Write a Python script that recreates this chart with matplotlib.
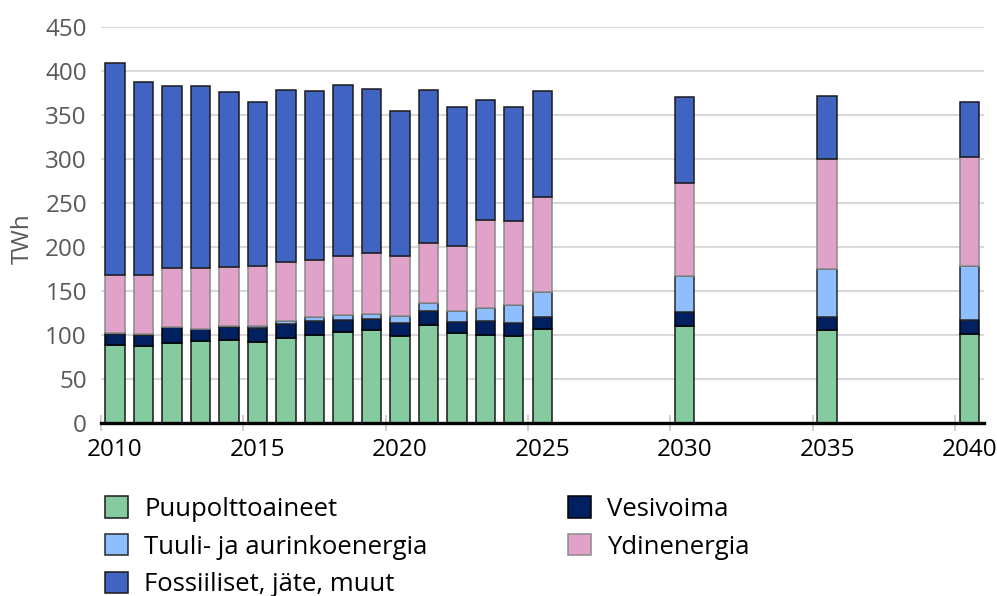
import numpy as np
import matplotlib
matplotlib.use("Agg")
import matplotlib.pyplot as plt
from matplotlib.patches import Patch

# -----------------------------------------
# Data (TWh)
# -----------------------------------------

years = [2010, 2011, 2012, 2013, 2014, 2015, 2016, 2017, 2018, 2019,
         2020, 2021, 2022, 2023, 2024, 2025, 2030, 2035, 2040]

puu = [88.5, 87.7, 91.1, 93.4, 93.8, 91.5, 96.8, 100.2, 103.3, 105.2,
       98.3, 111.3, 101.7, 100.2, 99.1, 106.7, 110.5, 105.2, 101.0]
vesi = [13.0, 12.5, 17.5, 12.9, 14.8, 17.0, 16.0, 15.6, 14.0, 12.9,
        15.6, 16.3, 13.4, 16.0, 14.4, 14.1, 15.2, 15.6, 15.6]
tuuli = [0.3, 0.5, 0.5, 0.8, 1.1, 2.0, 2.6, 4.6, 5.7, 5.7,
         8.0, 8.3, 11.7, 14.4, 20.9, 28.1, 41.8, 54.6, 62.3]
ydin = [66.2, 67.1, 66.7, 69.1, 67.3, 68.4, 68.0, 65.3, 66.5, 69.5,
        67.6, 68.4, 74.1, 100.3, 94.9, 107.4, 105.1, 124.6, 123.0]
fossiili = [241.0, 220.2, 207.0, 206.6, 199.0, 186.4, 195.2, 191.3, 194.4, 185.7,
            165.5, 173.6, 158.3, 135.6, 130.3, 120.4, 98.4, 71.8, 63.4]

tick_years = [2010, 2015, 2020, 2025, 2030, 2035, 2040]

# -----------------------------------------
# Style
# -----------------------------------------

plt.rcParams["font.family"] = ["Open Sans", "DejaVu Sans"]
FS = 17.5
LEG_FS = 18.5

series = [
    ("Puupolttoaineet", puu, "#86CB9F", "#1a1a1a"),
    ("Vesivoima", vesi, "#002060", "#000000"),
    ("Tuuli- ja aurinkoenergia", tuuli, "#8FBEFF", "#2a2a2a"),
    ("Ydinenergia", ydin, "#E0A2C9", "#8a8a8a"),
    ("Fossiiliset, jäte, muut", fossiili, "#4163C1", "#1a1a1a"),
]

fig = plt.figure(figsize=(9.97, 5.96), dpi=100)
ax = fig.add_axes([0.1011, 0.2903, 0.8856, 0.6644])

# -----------------------------------------
# Stacked bars
# -----------------------------------------

x = np.array(years)
bottom = np.zeros(len(years))
handles = {}
for name, vals, col, edge in series:
    vals = np.array(vals)
    ax.bar(x, vals, width=0.68, bottom=bottom, color=col,
           edgecolor=edge, linewidth=1.1, zorder=3)
    bottom = bottom + vals
    handles[name] = Patch(facecolor=col, edgecolor=edge, linewidth=1.1)

# -----------------------------------------
# Axes
# -----------------------------------------

ax.set_xlim(2009.5, 2040.5)
ax.set_ylim(0, 450)
ax.set_yticks(range(0, 451, 50))
ax.set_xticks(tick_years)
ax.set_xticks([y - 0.5 for y in tick_years], minor=True)

ax.grid(axis="y", color="#d9d9d9", linewidth=1.5, zorder=0)
for s in ["top", "right", "left"]:
    ax.spines[s].set_visible(False)
ax.spines["bottom"].set_linewidth(2.4)
ax.spines["bottom"].set_color("black")
ax.spines["bottom"].set_zorder(4)

ax.tick_params(axis="y", length=0, pad=10, labelsize=FS, labelcolor="#595959")
ax.tick_params(axis="x", which="major", length=0, pad=11, labelsize=FS,
               labelcolor="black")
ax.tick_params(axis="x", which="minor", length=12, width=1.4,
               direction="inout", color="#d0d0d0")

fig.text(0.023, 0.599, "TWh", rotation=90, ha="center", va="center",
         fontsize=FS, color="#595959")

# -----------------------------------------
# Legend
# -----------------------------------------

order = ["Puupolttoaineet", "Tuuli- ja aurinkoenergia", "Fossiiliset, jäte, muut",
         "Vesivoima", "Ydinenergia"]
fig.legend([handles[n] for n in order], order, ncol=2, loc="upper left",
           bbox_to_anchor=(0.105, 0.167), frameon=False, fontsize=LEG_FS,
           handlelength=0.9, handleheight=0.9, handletextpad=0.64,
           labelspacing=0.47, columnspacing=5.45, borderaxespad=0,
           borderpad=0)

fig.savefig("out.png", dpi=100)
